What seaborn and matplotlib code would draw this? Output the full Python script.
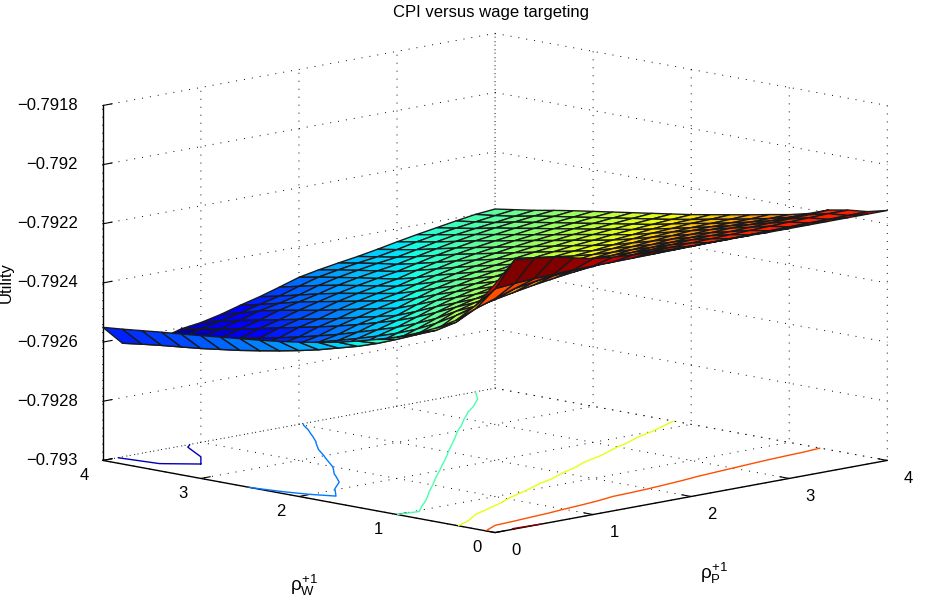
import numpy as np
import matplotlib
matplotlib.use('Agg')
import matplotlib.pyplot as plt
import seaborn as sns

rho_p = [0, 0.2, 0.4, 0.6, 0.8, 1, 1.2, 1.4, 1.6, 1.8, 2, 2.2, 2.4, 2.6, 2.8, 3, 3.2, 3.4, 3.6, 3.8, 4]
rho_w = [0, 0.2, 0.4, 0.6, 0.8, 1, 1.2, 1.4, 1.6, 1.8, 2, 2.2, 2.4, 2.6, 2.8, 3, 3.2, 3.4, 3.6, 3.8, 4]

# utility, in 1e-5 above the floor of the z axis
# one row per rho_p, running along rho_w
floor = -0.793
color_top = 89
height = [
    [84, 75.5, 69.3, 65.5, 62.5, 60, 58, 56.2, 54.6, 53.3, 52.2, 51.2, 50.4, 49.7, 49, 48.3, 47.6, 47, 46.3, 45.6, 45],
    [91, 80, 72, 66.2, 62.3, 59.6, 56.8, 54.2, 52, 50.2, 48.4, 46.9, 45.6, 44.4, 43.3, 42.4, 41.5, 40.8, 40.1, 39.3, 38.4],
    [90.3, 80.6, 74.2, 70, 66, 62.2, 59, 56.4, 54.2, 52.2, 50.3, 48.5, 46.8, 45.3, 43.9, 42.6, 41.4, 40, 39.1, 38.2, 37.4],
    [89.5, 81, 76.4, 71.5, 68, 65, 61.4, 58.5, 56, 53.9, 51.9, 49.9, 48.2, 46.6, 45.1, 43.8, 42.5, 41.2, 40, 38.8, 37.7],
    [88, 81.2, 77.5, 72.8, 69.5, 66.8, 64, 61, 58.2, 55.8, 53.9, 52, 50.3, 48.8, 47.4, 46, 44.6, 43.2, 42, 40.8, 39.6],
    [86.5, 81.5, 78.4, 74, 71, 68.2, 65.6, 63, 60.5, 57.7, 55.1, 53.5, 52, 50.4, 49, 47.7, 46.3, 45, 43.7, 42.3, 40.5],
    [85.8, 81.6, 79, 75, 72.3, 69.4, 67.1, 64.7, 62.4, 60.1, 57.5, 55.1, 53.7, 52.3, 50.9, 49.5, 48.3, 47.1, 45.7, 43.7, 42],
    [85.3, 81.7, 79.5, 75.9, 73.4, 70.5, 68.2, 66.1, 64, 61.9, 59.7, 57.3, 55.2, 53.9, 52.6, 51.3, 50, 48.7, 47, 45.4, 43.9],
    [85, 81.8, 80, 76.6, 74.3, 71.7, 69.2, 67.3, 65.3, 63.4, 61.4, 59.4, 57.2, 55.2, 54, 52.8, 51.6, 50.2, 48.6, 47, 45.6],
    [84.8, 81.9, 80.2, 77.3, 75.1, 72.6, 70.1, 68.3, 66.5, 64.6, 62.8, 61, 59.1, 57.1, 55.2, 54.1, 53, 51.9, 50.6, 49.1, 47.6],
    [84.7, 82, 80.4, 78, 75.8, 73.5, 71.1, 69.1, 67.4, 65.7, 64, 62.4, 60.7, 58.9, 56.9, 55.2, 54.2, 53.2, 52.1, 51, 49.7],
    [84.7, 82.1, 80.6, 78.6, 76.4, 74.2, 72, 69.9, 68.3, 66.7, 65.1, 63.5, 62, 60.4, 58.6, 56.9, 55.3, 54.3, 53.3, 52.2, 51],
    [84.6, 82.2, 80.8, 79, 76.9, 74.9, 72.8, 70.8, 69.1, 67.6, 66.1, 64.6, 63.1, 61.6, 60.1, 58.4, 56.8, 55.3, 54.4, 53.3, 52.1],
    [84.6, 82.3, 81, 79.4, 77.4, 75.4, 73.5, 71.6, 69.7, 68.3, 66.9, 65.5, 64.1, 62.7, 61.3, 59.9, 58.3, 56.7, 55.3, 54.2, 53.1],
    [84.5, 82.4, 81.2, 79.6, 77.8, 76, 74.1, 72.3, 70.4, 69, 67.7, 66.3, 65, 63.7, 62.3, 61, 59.6, 58.1, 56.6, 55.4, 54.3],
    [84.5, 82.5, 81.4, 79.8, 78.2, 76.4, 74.7, 73, 71.2, 69.6, 68.3, 67.1, 65.8, 64.6, 63.3, 62, 60.8, 59.4, 58, 56.8, 55.6],
    [84.5, 82.6, 81.6, 80, 78.5, 76.8, 75.2, 73.5, 71.9, 70.2, 69, 67.8, 66.6, 65.3, 64.1, 62.9, 61.7, 60.5, 59.2, 58, 56.8],
    [84.5, 82.7, 81.8, 80.2, 78.5, 76.9, 75.3, 73.8, 72.3, 70.9, 69.5, 68.4, 67.2, 66.1, 64.9, 63.8, 62.6, 61.5, 60.1, 59, 57.9],
    [84.5, 82.7, 82, 80.4, 78.5, 76.9, 75.4, 74, 72.8, 71.4, 70, 68.9, 67.8, 66.7, 65.6, 64.5, 63.4, 62.3, 60.9, 59.9, 59],
    [84.5, 82.8, 82.2, 80.6, 78.5, 76.9, 75.5, 74.2, 73, 71.7, 70.5, 69.4, 68.4, 67.3, 66.3, 65.2, 64.2, 63.1, 61.8, 60.8, 60],
    [84.5, 82.9, 82.2, 81, 78.6, 77, 75.8, 74.5, 73.3, 72.1, 70.9, 69.9, 68.9, 67.9, 66.9, 65.9, 64.9, 63.8, 62.6, 61.6, 60.6],
]

contour_levels = [-0.7926, -0.7925, -0.7924, -0.7923, -0.7922, -0.7921]
xy_ticks = [0, 1, 2, 3, 4]
z_ticks = [-0.793, -0.7928, -0.7926, -0.7924, -0.7922, -0.792, -0.7918]
z_labels = ['\u22120.793', '\u22120.7928', '\u22120.7926', '\u22120.7924', '\u22120.7922', '\u22120.792', '\u22120.7918']

sns.set_theme(style='white')
plt.rcParams['font.family'] = ['Liberation Sans', 'DejaVu Sans']
plt.rcParams['mathtext.fontset'] = 'custom'
plt.rcParams['mathtext.rm'] = 'Liberation Sans'
plt.rcParams['mathtext.it'] = 'Liberation Sans'

jet = plt.get_cmap('jet')

P, W = np.meshgrid(rho_p, rho_w, indexing='ij')
Z = floor + np.array(height) * 1e-5
norm = plt.Normalize(Z.min(), floor + color_top * 1e-5)

fig = plt.figure(figsize=(9.28, 6.04), dpi=100)
ax = fig.add_axes([63.7 / 928, -110.3 / 604, 840 / 928, 840 / 604], projection='3d', proj_type='ortho')
ax.set_box_aspect((553, 553, 360), zoom=0.998)
ax.view_init(elev=10.6, azim=-135)

ax.plot_surface(P, W, Z, facecolors=jet(norm(Z)), rstride=1, cstride=1, shade=False,
                edgecolor='k', linewidth=1.0)
ax.contour(P, W, Z, levels=contour_levels, zdir='z', offset=floor, cmap=jet, norm=norm, linewidths=1.0)

ax.set_xlim(0, 4)
ax.set_ylim(0, 4)
ax.set_zlim(-0.793, -0.7918)
ax.set_xticks(xy_ticks)
ax.set_yticks(xy_ticks)
ax.set_zticks(z_ticks)
ax.set_zticklabels(z_labels)

for axis in [ax.xaxis, ax.yaxis, ax.zaxis]:
    axis.set_pane_color((1, 1, 1, 1))
    axis.pane.set_edgecolor('white')
    axis.line.set_color('black')
    axis.line.set_linewidth(1.0)
    axis._axinfo['grid'].update(color='black', linestyle=(0, (1, 7.2)), linewidth=0.7)
    axis._axinfo['tick']['inward_factor'] = 0.0
    axis._axinfo['tick']['outward_factor'] = 0.3
    axis._axinfo['tick']['linewidth'] = {True: 0.8, False: 0.5}
ax.tick_params(axis='both', labelsize=12, colors='black')
ax.tick_params(axis='x', pad=5)
ax.tick_params(axis='y', pad=3)
ax.tick_params(axis='z', labelsize=12, pad=2)
plt.setp(ax.get_xticklabels(), ha='left', va='center')
plt.setp(ax.get_yticklabels(), ha='right', va='center')
plt.setp(ax.get_zticklabels(), ha='right', va='center')

fig.text(491 / 928, 1 - 12.5 / 604, 'CPI versus wage targeting', ha='center', va='center', fontsize=12, color='black')
fig.text(6 / 928, 1 - 283 / 604, 'Utility', ha='center', va='center', rotation=90, fontsize=12, color='black')
fig.text(304 / 928, 1 - 585 / 604, r'$\rho_{\mathrm{W}}^{+1}$', ha='center', va='center', fontsize=13.5, color='black')
fig.text(714 / 928, 1 - 573 / 604, r'$\rho_{\mathrm{P}}^{+1}$', ha='center', va='center', fontsize=13.5, color='black')

fig.savefig('out.png', dpi=100)
